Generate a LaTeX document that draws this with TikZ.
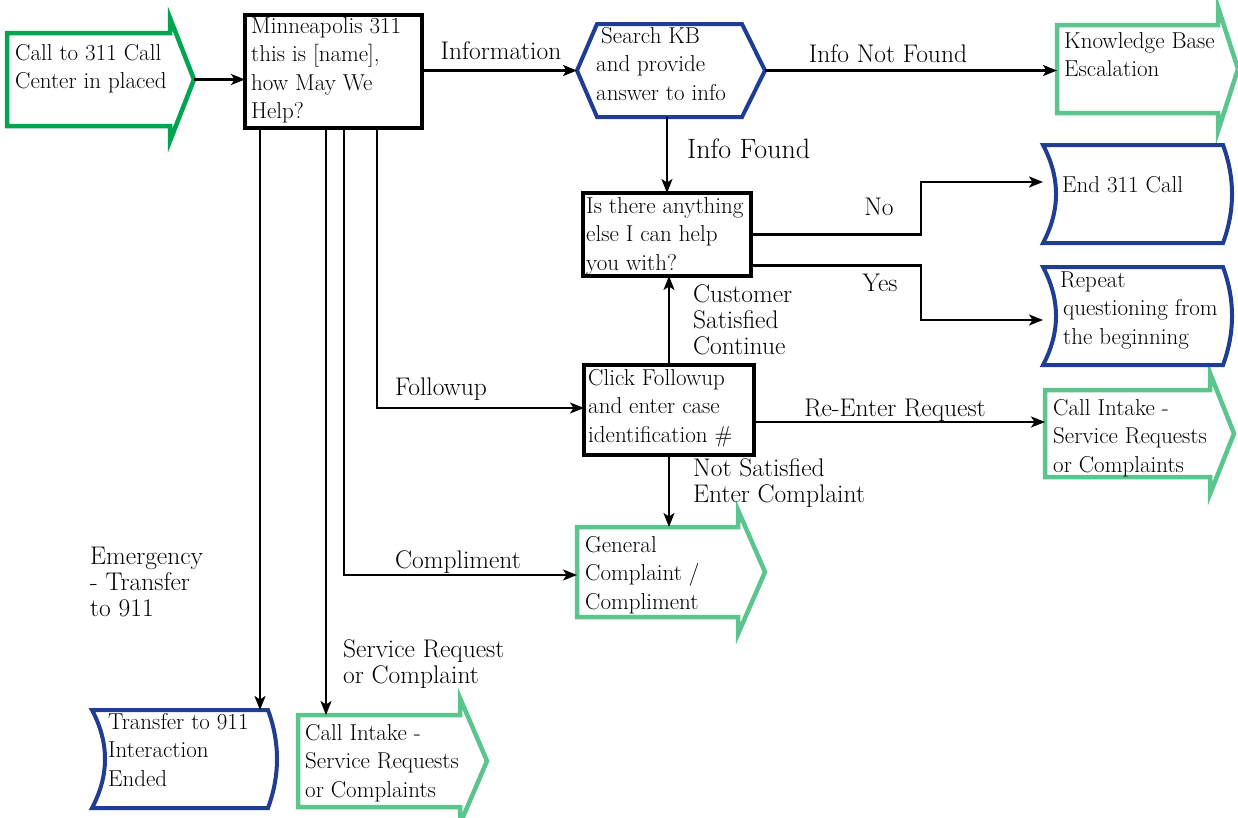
\documentclass[tikz,border=0pt]{standalone}
\usepackage{fontspec}
\usetikzlibrary{arrows.meta,calc}

\definecolor{dkgreen}{HTML}{00A54F}
\definecolor{ltgreen}{HTML}{5AC58D}
\definecolor{navy}{HTML}{1F3E93}

\newcommand\boxfont{\fontsize{23}{28.5}\selectfont}
\newcommand\lblfont{\fontsize{25.5}{26}\selectfont}
\newcommand\ml[1]{\begin{tabular}[t]{@{}l@{}}#1\end{tabular}}

% outline of a right-pointing signal shape around a body node
\newcommand\sigoutline[4]{%
  \draw[#2, line width=4.5pt, line join=miter]
    (#1.north west) -- (#1.north east) -- ++(0,-#3)
    -- ($(#1.east)+(#4,0)$) coordinate (#1-tip)
    -- ($(#1.south east)+(0,#3)$) -- (#1.south east) -- (#1.south west) -- cycle;}

% outline with both sides bowed to the right
\newcommand\curvedoutline[4]{%
  \draw[#2, line width=4pt, line join=miter]
    (#1.north west) -- (#1.north east)
    .. controls ($(#1.north east)!1/3!(#1.south east)+(4*#4/3,0)$)
            and ($(#1.north east)!2/3!(#1.south east)+(4*#4/3,0)$) .. (#1.south east)
    -- (#1.south west)
    .. controls ($(#1.north west)!2/3!(#1.south west)+(4*#3/3,0)$)
            and ($(#1.north west)!1/3!(#1.south west)+(4*#3/3,0)$) .. (#1.north west) -- cycle;}

\tikzset{
  conn/.style={line width=2.2pt, -{Stealth[length=14pt,width=11pt,inset=3.5pt]}},
  body/.style={inner sep=0pt, outer sep=0pt, anchor=north west},
  blackbox/.style={draw=black, line width=4.5pt, inner sep=0pt, outer sep=0pt, anchor=north west},
  btxt/.style={inner sep=0pt, anchor=base west, font=\boxfont},
  ltxt/.style={inner sep=0pt, font=\lblfont},
}

\begin{document}
\begin{tikzpicture}[x=1pt, y=-1pt]
\useasboundingbox (0,0) rectangle (1238,817);

% ---- shape bodies ----
\node[body, minimum width=163pt, minimum height=93pt] (call) at (7,33) {};
\node[blackbox, minimum width=177pt, minimum height=113pt] (mn) at (245,15) {};
\node[body, minimum width=188pt, minimum height=93pt] (kb) at (577,24) {};
\node[body, minimum width=161pt, minimum height=88pt] (kbe) at (1057,25) {};
\node[blackbox, minimum width=168pt, minimum height=83pt] (is) at (583,193) {};
\node[body, minimum width=180pt, minimum height=98pt] (endc) at (1043,145) {};
\node[body, minimum width=180pt, minimum height=98pt] (rep) at (1043,267) {};
\node[blackbox, minimum width=170pt, minimum height=90pt] (click) at (584,365) {};
\node[body, minimum width=165pt, minimum height=87pt] (cir) at (1045,390) {};
\node[body, minimum width=161pt, minimum height=90pt] (gen) at (577,527) {};
\node[body, minimum width=176pt, minimum height=98pt] (tr) at (92,710) {};
\node[body, minimum width=162pt, minimum height=92pt] (cib) at (298,715) {};

% ---- outlines ----
\sigoutline{call}{dkgreen}{15}{24}
\sigoutline{kbe}{ltgreen}{18}{20}
\sigoutline{cir}{ltgreen}{17}{24}
\sigoutline{gen}{ltgreen}{17}{27}
\sigoutline{cib}{ltgreen}{17}{27}
\draw[navy, line width=4pt, line join=miter]
  ($(kb.north west)+(20,0)$) -- ($(kb.north east)+(-23,0)$) -- (kb.east)
  -- ($(kb.south east)+(-23,0)$) -- ($(kb.south west)+(20,0)$) -- (kb.west) -- cycle;
\curvedoutline{endc}{navy}{13}{9}
\curvedoutline{rep}{navy}{13}{9}
\curvedoutline{tr}{navy}{13}{9}

% ---- texts inside the shapes ----
\node[btxt] (call-t) at (15,60) {\ml{Call to 311 Call\\Center in placed}};
\node[btxt] (mn-t) at (251,33) {\ml{Minneapolis 311\\this is [name],\\how May We\\Help?}};
\node[btxt] (kb-t) at (596,43) {\ml{\hspace*{5pt}Search KB\\and provide\\answer to info}};
\node[btxt] (kbe-t) at (1064,48) {\ml{Knowledge Base\\Escalation}};
\node[btxt] (is-t) at (586,213) {\ml{Is there anything\\else I can help\\you with?}};
\node[btxt] (endc-t) at (1062,192) {End 311 Call};
\node[btxt] (rep-t) at (1060,287) {\ml{Repeat\\\hspace*{3pt}questioning from\\\hspace*{3pt}the beginning}};
\node[btxt] (click-t) at (588,385) {\ml{Click Followup\\and enter case\\identification \#}};
\node[btxt] (cir-t) at (1053,415) {\ml{Call Intake -\\Service Requests\\or Complaints}};
\node[btxt] (gen-t) at (585,552) {\ml{General\\Complaint /\\Compliment}};
\node[btxt] (tr-t) at (108,729) {\ml{Transfer to 911\\Interaction\\Ended}};
\node[btxt] (cib-t) at (305,740) {\ml{Call Intake -\\Service Requests\\or Complaints}};

% ---- connectors ----
\draw[conn] (call-tip) -- (call-tip -| mn.west);
\draw[conn] (kb.west -| mn.east) -- (kb.west);
\draw[conn] (kb.east) -- (kb.east -| kbe.west);
\draw[conn] (kb.south -| is.north) -- (is.north);
\draw[conn] (is.east) -- ++(170,0) |- ($(endc.west)+(0,-12)$);
\draw[conn] ($(is.east)+(0,31)$) -- ++(170,0) |- ($(rep.west)+(0,4)$);
\draw[conn] (click.north) -- (click.north |- is.south);
\coordinate (clickR) at ($(click.east)+(0,12)$);
\draw[conn] (clickR) -- (clickR -| cir.west);
\draw[conn] (click.south) -- (click.south |- gen.north);
\coordinate (m1) at ($(mn.south west)+(15,0)$);
\coordinate (m2) at ($(mn.south west)+(81,0)$);
\coordinate (m3) at ($(mn.south west)+(99,0)$);
\coordinate (m4) at ($(mn.south west)+(132,0)$);
\coordinate (genIn) at ($(gen.west)+(0,3)$);
\coordinate (clickIn) at ($(click.west)+(0,-2)$);
\draw[conn] (m1) -- (m1 |- tr.north);
\draw[conn] (m2) -- (m2 |- cib.north);
\draw[conn] (m3) |- (genIn);
\draw[conn] (m4) |- (clickIn);

% ---- connector labels ----
\node[ltxt, anchor=base] (l-info) at (501,59) {Information};
\node[ltxt, anchor=base] (l-notfound) at (888,62) {Info Not Found};
\node[ltxt, anchor=base west, font=\fontsize{28}{30}\selectfont] (l-found) at (687,158) {Info Found};
\node[ltxt, anchor=base] (l-no) at (879,215) {No};
\node[ltxt, anchor=base] (l-yes) at (880,291) {Yes};
\node[ltxt, anchor=base west] (l-sat) at (693,302) {\ml{Customer\\Satisfied\\Continue}};
\node[ltxt, anchor=base] (l-follow) at (441,395) {Followup};
\node[ltxt, anchor=base] (l-reenter) at (895,416) {Re-Enter Request};
\node[ltxt, anchor=base west] (l-notsat) at (693,476) {\ml{Not Satisfied\\Enter Complaint}};
\node[ltxt, anchor=base] (l-compl) at (458,568) {Compliment};
\node[ltxt, anchor=base west] (l-emerg) at (90,564) {\ml{Emergency\\- Transfer\\to 911}};
\node[ltxt, anchor=base west] (l-sr) at (343,657) {\ml{Service Request\\or Complaint}};
\end{tikzpicture}
\end{document}
